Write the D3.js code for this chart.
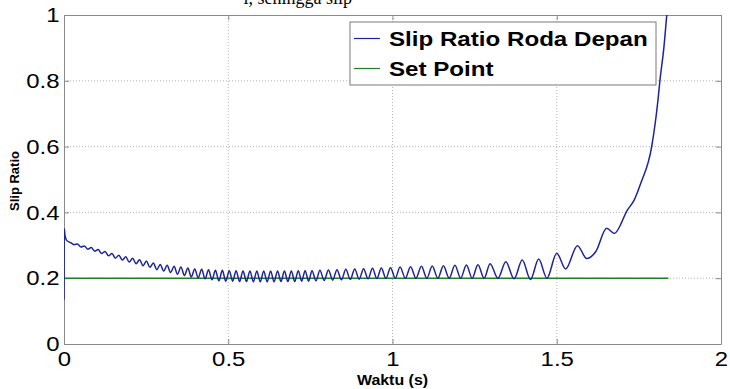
<!DOCTYPE html>
<html>
<head>
<meta charset="utf-8">
<script src="https://cdn.jsdelivr.net/npm/d3@7"></script>
<style>
  body { margin: 0; background: #fff; }
  svg { display: block; font-family: Arial, "Liberation Sans", Helvetica, sans-serif; }
</style>
</head>
<body>
<svg id="chart" width="730" height="389"></svg>
<script>
// axis ticks and labels
const xTicks = [0, 0.5, 1, 1.5, 2];
const xTickLabels = ['0', '0.5', '1', '1.5', '2'];
const yTicks = [0, 0.2, 0.4, 0.6, 0.8, 1];
const yTickLabels = ['0', '0.2', '0.4', '0.6', '0.8', '1'];

const seriesNames = ['Slip Ratio Roda Depan', 'Set Point'];

// front wheel slip ratio, [time (s), ratio] (peaks / troughs)
const slipPoints = [
  [0, 0.135], [0.001, 0.35], [0.003, 0.33], [0.008, 0.315],
  [0.020, 0.308], [0.0305, 0.302], [0.041, 0.304], [0.0515, 0.295],
  [0.062, 0.298], [0.0725, 0.288], [0.083, 0.293], [0.0935, 0.282],
  [0.104, 0.287], [0.1145, 0.275], [0.125, 0.281], [0.1355, 0.268],
  [0.146, 0.275], [0.1565, 0.261], [0.167, 0.270], [0.1775, 0.255],
  [0.188, 0.265], [0.1985, 0.249], [0.209, 0.261], [0.2195, 0.244],
  [0.230, 0.256], [0.2405, 0.238], [0.251, 0.252], [0.2615, 0.233],
  [0.272, 0.246], [0.2825, 0.226], [0.293, 0.242], [0.3035, 0.222],
  [0.314, 0.239], [0.3245, 0.217], [0.335, 0.236], [0.3455, 0.212],
  [0.356, 0.234], [0.3665, 0.208], [0.377, 0.231], [0.3875, 0.204],
  [0.398, 0.228], [0.4085, 0.201], [0.419, 0.227], [0.4295, 0.198],
  [0.440, 0.226], [0.4505, 0.195], [0.461, 0.224], [0.4715, 0.192],
  [0.482, 0.224], [0.4925, 0.191], [0.503, 0.223], [0.5135, 0.191],
  [0.524, 0.223], [0.5345, 0.190], [0.545, 0.222], [0.5555, 0.190],
  [0.566, 0.222], [0.5765, 0.189], [0.587, 0.222], [0.5975, 0.189],
  [0.608, 0.222], [0.6185, 0.189], [0.629, 0.222], [0.6395, 0.189],
  [0.650, 0.222], [0.6605, 0.190], [0.671, 0.222], [0.6815, 0.190],
  [0.692, 0.222], [0.7025, 0.190], [0.713, 0.223], [0.7235, 0.191],
  [0.734, 0.223], [0.7445, 0.191], [0.755, 0.223], [0.767, 0.192],
  [0.779, 0.224], [0.792, 0.193], [0.805, 0.225], [0.818, 0.194],
  [0.831, 0.226], [0.8445, 0.195], [0.858, 0.227], [0.8715, 0.196],
  [0.885, 0.228], [0.8985, 0.197], [0.912, 0.229], [0.9255, 0.198],
  [0.939, 0.230], [0.9525, 0.199], [0.966, 0.231], [0.980, 0.199],
  [0.994, 0.232], [1.0085, 0.200], [1.023, 0.234], [1.039, 0.200],
  [1.055, 0.235], [1.0715, 0.200], [1.088, 0.236], [1.1045, 0.200],
  [1.121, 0.237], [1.138, 0.200], [1.155, 0.238], [1.1725, 0.200],
  [1.190, 0.239], [1.2075, 0.200], [1.225, 0.240], [1.2425, 0.200],
  [1.260, 0.241], [1.279, 0.200], [1.297, 0.244], [1.321, 0.200],
  [1.345, 0.250], [1.370, 0.198], [1.395, 0.255], [1.420, 0.196],
  [1.445, 0.258], [1.470, 0.200], [1.500, 0.276], [1.527, 0.228],
  [1.563, 0.299], [1.591, 0.260], [1.619, 0.281], [1.652, 0.352],
  [1.675, 0.336], [1.715, 0.407], [1.736, 0.438], [1.756, 0.489],
  [1.789, 0.600], [1.808, 0.740], [1.814, 0.800], [1.826, 0.900],
  [1.835, 1.000], [1.845, 1.100]
];

// set point line
const setPointTime = [0, 1.84];
const setPointValue = [0.2, 0.2];

const blue = '#1c249c';
const green = '#1f7f24';
const frame = '#8a8a8a';
const stretch = 'scale(1.14,1)'; // the picture is a little wide

const svg = d3.select('#chart');
const plotLeft = 64;
const plotRight = 721;
const plotTop = 15;
const plotBottom = 344;

const x = d3.scaleLinear().domain([0, 2]).range([plotLeft, plotRight]);
const y = d3.scaleLinear().domain([0, 1]).range([plotBottom, plotTop]);

// fragment of the document text above the figure
svg.append('text')
  .attr('x', 352)
  .attr('y', 4)
  .attr('text-anchor', 'end')
  .style('font-family', '"Liberation Serif", "Times New Roman", serif')
  .style('font-size', '18px')
  .text('l, sehingga slip');

svg.append('rect')
  .attr('x', plotLeft)
  .attr('y', plotTop)
  .attr('width', plotRight - plotLeft)
  .attr('height', plotBottom - plotTop)
  .attr('fill', '#fff');

// dotted grid
const grid = svg.append('g').attr('stroke', '#b4b4b4').attr('stroke-dasharray', '1,2');
grid.selectAll('.gx')
  .data(xTicks.slice(1, -1))
  .enter()
  .append('line')
  .attr('x1', (d) => x(d))
  .attr('x2', (d) => x(d))
  .attr('y1', plotTop)
  .attr('y2', plotBottom);
grid.selectAll('.gy')
  .data(yTicks.slice(1, -1))
  .enter()
  .append('line')
  .attr('x1', plotLeft)
  .attr('x2', plotRight)
  .attr('y1', (d) => y(d))
  .attr('y2', (d) => y(d));

// axes on all four sides, ticks pointing in
function styleAxis(g) {
  g.attr('font-family', null).attr('font-size', null);
  g.select('.domain').attr('stroke', frame);
  g.selectAll('.tick line').attr('stroke', frame);
  g.selectAll('.tick text')
    .attr('fill', '#000')
    .style('font-size', '21px')
    .attr('transform', stretch);
}

svg.append('g')
  .attr('transform', `translate(0,${plotBottom})`)
  .call(d3.axisBottom(x).tickValues(xTicks).tickFormat((d, i) => xTickLabels[i])
    .tickSizeInner(-5).tickSizeOuter(0).tickPadding(7))
  .call(styleAxis);

svg.append('g')
  .attr('transform', `translate(${plotLeft},0)`)
  .call(d3.axisLeft(y).tickValues(yTicks).tickFormat((d, i) => yTickLabels[i])
    .tickSizeInner(-5).tickSizeOuter(0).tickPadding(4))
  .call(styleAxis);

svg.append('g')
  .attr('transform', `translate(0,${plotTop})`)
  .call(d3.axisTop(x).tickValues(xTicks).tickFormat('').tickSizeInner(-5).tickSizeOuter(0))
  .call(styleAxis);

svg.append('g')
  .attr('transform', `translate(${plotRight},0)`)
  .call(d3.axisRight(y).tickValues(yTicks).tickFormat('').tickSizeInner(-5).tickSizeOuter(0))
  .call(styleAxis);

// lines
svg.append('clipPath')
  .attr('id', 'plot-clip')
  .append('rect')
  .attr('x', plotLeft)
  .attr('y', plotTop)
  .attr('width', plotRight - plotLeft)
  .attr('height', plotBottom - plotTop);

const plot = svg.append('g').attr('clip-path', 'url(#plot-clip)');

const setLine = d3.line()
  .x((d, i) => x(setPointTime[i]))
  .y((d) => y(d));

plot.append('path')
  .datum(setPointValue)
  .attr('fill', 'none')
  .attr('stroke', green)
  .attr('stroke-width', 1.6)
  .attr('d', setLine);

const slipLine = d3.line()
  .x((d) => x(d[0]))
  .y((d) => y(d[1]))
  .curve(d3.curveMonotoneX);

plot.append('path')
  .datum(slipPoints)
  .attr('fill', 'none')
  .attr('stroke', blue)
  .attr('stroke-width', 1.5)
  .attr('stroke-linejoin', 'round')
  .attr('d', slipLine);

// axis titles
svg.append('text')
  .attr('transform', `translate(${(plotLeft + plotRight) / 2},385) ${stretch}`)
  .attr('text-anchor', 'middle')
  .style('font-size', '14px')
  .style('font-weight', 'bold')
  .text('Waktu (s)');

svg.append('text')
  .attr('transform', 'translate(19,181) rotate(-90)')
  .attr('text-anchor', 'middle')
  .style('font-size', '13px')
  .style('font-weight', 'bold')
  .text('Slip Ratio');

// legend
const legend = svg.append('g').attr('transform', 'translate(350,22)');
legend.append('rect')
  .attr('width', 306)
  .attr('height', 63)
  .attr('fill', '#fff')
  .attr('stroke', '#7a7a7a');

const items = legend.selectAll('.item')
  .data(seriesNames)
  .enter()
  .append('g')
  .attr('transform', (d, i) => `translate(0,${16.5 + i * 30})`);

items.append('line')
  .attr('x1', 4)
  .attr('x2', 30)
  .attr('stroke', (d, i) => (i === 0 ? blue : green))
  .attr('stroke-width', 1.2);

items.append('text')
  .attr('transform', `translate(39,7.5) scale(1.15,1)`)
  .style('font-size', '21px')
  .style('font-weight', 'bold')
  .text((d) => d);
</script>
</body>
</html>
